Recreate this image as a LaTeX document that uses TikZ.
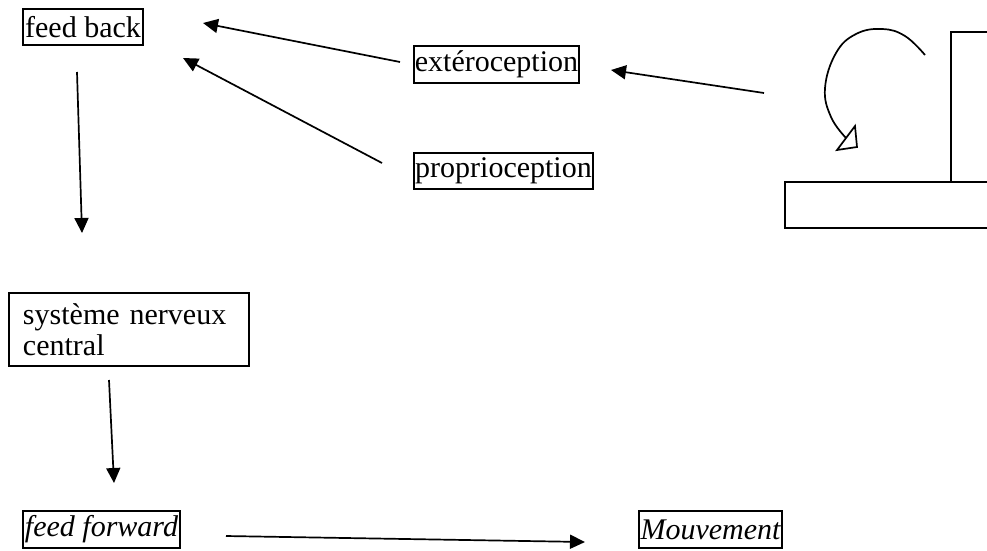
\documentclass[tikz,border=0pt]{standalone}
\usepackage{fontspec}
\setmainfont{Liberation Serif}
\usetikzlibrary{arrows.meta}
\tikzset{
  box/.style={draw, line width=1.5pt, inner sep=0pt, font=\fontsize{30}{31}\selectfont},
  conn/.style={line width=1.7pt, -{Triangle[length=15pt,width=14pt]}},
  sceneline/.style={line width=1.7pt}
}
\begin{document}
\begin{tikzpicture}[x=1pt,y=-1pt]
\clip (0,0) rectangle (987,550);
% text boxes
\node[box, minimum width=120, minimum height=36] (fb) at (83,27) {feed back};
\node[box, minimum width=165, minimum height=37] (ext) at (496.5,64.5) {extéroception};
\node[box, minimum width=179, minimum height=36] (prop) at (503.5,171) {proprioception};
\node[box, minimum width=240, minimum height=73, text width=212, inner xsep=14pt, align=left] (snc) at (129,329.5) {système nerveux\\central};
\node[box, minimum width=157, minimum height=37] (ff) at (101.5,529.5) {\itshape feed forward};
\node[box, minimum width=143, minimum height=37] (mv) at (710.5,529.5) {\itshape Mouvement};
% free connector ends
\coordinate (e1s) at (400,62);  \coordinate (e1t) at (203,23);
\coordinate (p1s) at (382,163); \coordinate (p1t) at (183,58);
\coordinate (xs) at (764,93);   \coordinate (xt) at (611,70);
\coordinate (d1s) at (77,72);   \coordinate (d1t) at (82,233);
\coordinate (d2s) at (109,380); \coordinate (d2t) at (114,483);
\coordinate (fs) at (226,536);  \coordinate (ft) at (585,542);
% connectors
\draw[conn] (e1s) -- (e1t);
\draw[conn] (p1s) -- (p1t);
\draw[conn] (xs) -- (xt);
\draw[conn] (d1s) -- (d1t);
\draw[conn] (d2s) -- (d2t);
\draw[conn] (fs) -- (ft);
% scene on the right
\draw[sceneline] (951,182) -- (951,32) -- (1000,32);
\draw[sceneline] (1000,182) -- (785,182) -- (785,228) -- (1000,228);
\draw[sceneline] plot[smooth, tension=0.7] coordinates {(925,55) (905,36) (882,29) (856,34) (836,53) (825,88) (831,117) (846,138)};
\draw[sceneline, fill=white] (837,150) -- (855,126) -- (857,147) -- cycle;
\end{tikzpicture}
\end{document}
